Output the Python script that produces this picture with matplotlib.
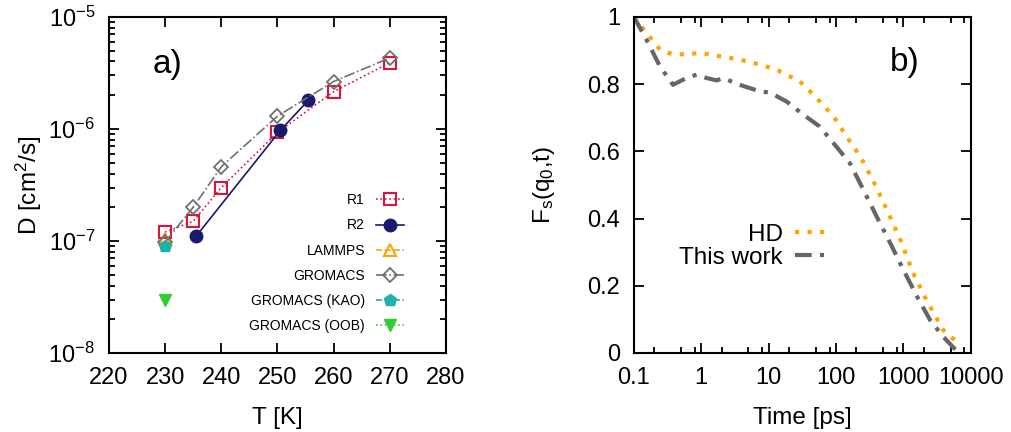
import matplotlib
matplotlib.use("Agg")
import matplotlib.pyplot as plt
import numpy as np
from matplotlib.ticker import FixedLocator, NullFormatter, LogLocator, FuncFormatter

plt.rcParams['font.family'] = ['Liberation Sans', 'DejaVu Sans']
plt.rcParams['mathtext.fontset'] = 'custom'
plt.rcParams['mathtext.rm'] = 'Liberation Sans'
plt.rcParams['mathtext.it'] = 'Liberation Sans:italic'
plt.rcParams['mathtext.default'] = 'regular'

# ---- panel a data ----
r1_T = [230, 235, 240, 250, 260, 270]
r1_D = [1.2e-7, 1.5e-7, 3.0e-7, 9.3e-7, 2.15e-6, 3.9e-6]
r2_T = [235.5, 250.5, 255.5]
r2_D = [1.1e-7, 9.7e-7, 1.8e-6]
lammps_T = [230]
lammps_D = [1.05e-7]
gromacs_T = [230, 235, 240, 250, 260, 270]
gromacs_D = [0.98e-7, 2.0e-7, 4.6e-7, 1.3e-6, 2.65e-6, 4.3e-6]
kao_T = [230]
kao_D = [0.9e-7]
oob_T = [230]
oob_D = [3.0e-8]

# ---- panel b data ----
hd_t = [0.1, 0.154, 0.243, 0.38, 0.6, 0.95, 1.9, 3.7, 7.5, 13, 29, 49, 92, 143, 230,
        360, 570, 900, 1400, 2200, 3900, 6600]
hd_F = [1.0, 0.952, 0.903, 0.888, 0.889, 0.893, 0.883, 0.873, 0.858, 0.843, 0.808,
        0.763, 0.704, 0.644, 0.584, 0.51, 0.425, 0.336, 0.237, 0.157, 0.068, 0.028]
tw_t = [0.1, 0.154, 0.243, 0.38, 0.6, 0.85, 1.2, 1.7, 2.1, 3.7, 7.5, 10.4, 18.5, 32.7,
        57, 101, 160, 255, 400, 640, 1000, 1600, 2500, 3900, 6600]
tw_F = [1.0, 0.932, 0.853, 0.798, 0.818, 0.828, 0.818, 0.811, 0.818, 0.798, 0.778,
        0.775, 0.748, 0.709, 0.674, 0.614, 0.565, 0.485, 0.406, 0.326, 0.247, 0.167,
        0.097, 0.048, 0.0]

fig = plt.figure(figsize=(10.11, 4.32), dpi=100)
ax1 = fig.add_axes([0.1078, 0.1829, 0.3333, 0.778])
ax2 = fig.add_axes([0.627, 0.1829, 0.3333, 0.778])

ms = 9
ax1.plot(r1_T, r1_D, ls=':', color='#DC143C', marker='s', mfc='none', mec='#DC143C',
         ms=ms, mew=1.5, lw=1.2, label='R1')
ax1.plot(r2_T, r2_D, ls='-', color='#191970', marker='o', mfc='#191970', mec='#191970',
         ms=ms, lw=1.2, label='R2')
ax1.plot(lammps_T, lammps_D, ls='--', color='#FFA500', marker='^', mfc='none', mec='#FFA500',
         ms=ms, mew=1.5, lw=1.2, label='LAMMPS')
ax1.plot(gromacs_T, gromacs_D, ls='-.', color='#707070', marker='D', mfc='none', mec='#707070',
         ms=7, mew=1.3, lw=1.2, label='GROMACS')
ax1.plot(kao_T, kao_D, ls='--', color='#20B2AA', marker='p', mfc='#20B2AA', mec='#20B2AA',
         ms=ms, lw=1.2, label='GROMACS (KAO)')
ax1.plot(oob_T, oob_D, ls=':', color='#32CD32', marker='v', mfc='#32CD32', mec='#32CD32',
         ms=ms, lw=1.2, label='GROMACS (OOB)')

ax1.set_yscale('log')
ax1.set_xlim(220, 280)
ax1.set_ylim(1e-8, 1e-5)
ax1.set_xticks([220, 230, 240, 250, 260, 270, 280])
ax1.yaxis.set_major_locator(LogLocator(base=10, numticks=10))
ax1.yaxis.set_minor_locator(LogLocator(base=10, subs=np.arange(2, 10), numticks=10))
ax1.yaxis.set_minor_formatter(NullFormatter())
ax1.set_xlabel('T [K]', fontsize=17.5, labelpad=13)
ax1.set_ylabel('D [cm$^2$/s]', fontsize=17.5, labelpad=3)
ax1.text(0.13, 0.857, 'a)', transform=ax1.transAxes, fontsize=24, va='center', ha='left')
leg1 = ax1.legend(loc='upper right', bbox_to_anchor=(0.875, 0.475), frameon=False,
                  markerfirst=False, fontsize=10, handlelength=2.0, labelspacing=0.8,
                  handletextpad=0.8, borderaxespad=0, borderpad=0)

ax2.plot(hd_t, hd_F, ls=(0, (1, 2)), color='#FFA500', lw=3, label='HD')
ax2.plot(tw_t, tw_F, ls=(0, (4, 2, 1, 2)), color='#666666', lw=3, label='This work')
ax2.set_xscale('log')
ax2.set_xlim(0.1, 10000)
ax2.set_ylim(0, 1)
ax2.set_xticks([0.1, 1, 10, 100, 1000, 10000])
ax2.xaxis.set_major_formatter(FuncFormatter(lambda v, p: '%g' % v))
minors = [m * 10.0 ** e for e in range(-1, 4) for m in (2, 5, 8)]
ax2.xaxis.set_minor_locator(FixedLocator(minors))
ax2.xaxis.set_minor_formatter(NullFormatter())
ax2.set_yticks([0, 0.2, 0.4, 0.6, 0.8, 1.0])
ax2.yaxis.set_major_formatter(FuncFormatter(lambda v, p: '%g' % v))
ax2.set_xlabel('Time [ps]', fontsize=17.5, labelpad=13)
ax2.set_ylabel('F$_s$(q$_0$,t)', fontsize=17.5, labelpad=22)
ax2.text(0.76, 0.863, 'b)', transform=ax2.transAxes, fontsize=24, va='center', ha='left')
leg2 = ax2.legend(loc='upper right', bbox_to_anchor=(0.565, 0.385), frameon=False,
                  markerfirst=False, fontsize=17.5, handlelength=1.2, labelspacing=0.05,
                  handletextpad=0.5, borderaxespad=0, borderpad=0)

for ax in (ax1, ax2):
    for s in ax.spines.values():
        s.set_linewidth(1.5)
    ax.tick_params(which='both', direction='in', top=True, right=True, labelsize=17, width=1.3)
    ax.tick_params(which='major', length=7, pad=10)
    ax.tick_params(which='minor', length=4)

fig.savefig('out.png', dpi=100)
